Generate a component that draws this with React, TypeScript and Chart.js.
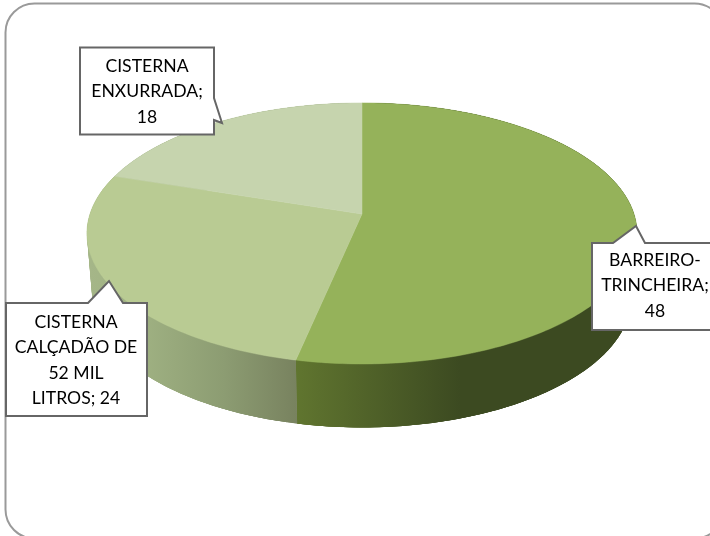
import React, { useEffect, useRef } from "react";
import { Chart, registerables } from "chart.js";

Chart.register(...registerables);

const categories = ["BARREIRO-TRINCHEIRA", "CISTERNA CALÇADÃO DE 52 MIL LITROS", "CISTERNA ENXURRADA"];
const values = [48, 24, 18];
const topColors = ["#95b25a", "#b9cb93", "#c6d4ae"];
const sideStops: [number, string][][] = [
  [[0, "#60752f"], [0.7, "#3c4a21"], [1, "#3c4a21"]],
  [[0, "#a5b688"], [0.25, "#9fb182"], [0.65, "#8c9c72"], [1, "#78825f"]],
  [[0, "#9aa884"], [1, "#9aa884"]],
];
const sideRanges = [[297, 530], [90, 297], [90, 362]];
const labelLines = [
  ["BARREIRO-", "TRINCHEIRA;", "48"],
  ["CISTERNA", "CALÇADÃO DE", "52 MIL", "LITROS; 24"],
  ["CISTERNA", "ENXURRADA;", "18"],
];

// Perspective of the pie disc
const disc = { cx: 362, cy: 214, a: 272, b: 127.6, k: -0.149, depth: 63.5, shrink: 0.98 };

const callouts = [
  { textX: 655, firstY: 260, path: [[592, 243], [613, 243], [636, 226], [645, 243], [730, 243], [730, 330], [592, 330]] },
  { textX: 76, firstY: 322, path: [[6, 303], [88, 303], [109, 281], [123, 303], [147, 303], [147, 416], [6, 416]] },
  { textX: 147, firstY: 66, path: [[80, 47.5], [214, 47.5], [214, 98], [222, 123], [214, 120], [214, 134.5], [80, 134.5]] },
];

const project = (angle: number, bottom = false): [number, number] => {
  const X = Math.cos(angle);
  const Y = Math.sin(angle);
  const d = 1 + disc.k * Y;
  const x = (disc.a * X) / d;
  const y = (disc.b * Y) / d;
  return bottom
    ? [disc.cx + x * disc.shrink, disc.cy + y + disc.depth]
    : [disc.cx + x, disc.cy + y];
};

const rim = (start: number, end: number, bottom = false) => {
  const n = Math.max(2, Math.ceil(Math.abs(end - start) * 60));
  const pts: [number, number][] = [];
  for (let i = 0; i <= n; i++) pts.push(project(start + ((end - start) * i) / n, bottom));
  return pts;
};

const trace = (ctx: CanvasRenderingContext2D, pts: number[][]) => {
  pts.forEach((p, i) => (i ? ctx.lineTo(p[0], p[1]) : ctx.moveTo(p[0], p[1])));
};

const perspectivePie = {
  id: "perspectivePie",
  beforeDatasetsDraw(chart: any) {
    const ctx: CanvasRenderingContext2D = chart.ctx;
    ctx.save();
    ctx.strokeStyle = "#9a9a9a";
    ctx.lineWidth = 2;
    ctx.beginPath();
    ctx.roundRect(5.5, 3.5, 718, 535, 29);
    ctx.stroke();
    ctx.restore();
  },
  beforeDatasetDraw(chart: any, args: any) {
    const ctx: CanvasRenderingContext2D = chart.ctx;
    const arcs = args.meta.data;
    ctx.save();
    [2, 0, 1].forEach((i) => {
      const el = arcs[i];
      const grad = ctx.createLinearGradient(sideRanges[i][0], 0, sideRanges[i][1], 0);
      sideStops[i].forEach(([o, c]) => grad.addColorStop(o, c));
      ctx.fillStyle = grad;
      const upper = rim(el.startAngle, el.endAngle);
      const lower = rim(el.startAngle, el.endAngle, true);
      const span = 6;
      for (let s = 0; s < upper.length - 1; s += 2) {
        const e = Math.min(s + span, upper.length - 1);
        ctx.beginPath();
        trace(ctx, [upper[s], upper[e], lower[e], lower[s]]);
        ctx.closePath();
        ctx.fill();
      }
      ctx.beginPath();
      trace(ctx, [...upper, ...lower.slice().reverse()]);
      ctx.closePath();
      ctx.fill();
    });
    arcs.forEach((el: any) => {
      ctx.fillStyle = el.options.backgroundColor;
      ctx.strokeStyle = el.options.backgroundColor;
      ctx.lineWidth = 0.5;
      ctx.beginPath();
      trace(ctx, [[disc.cx, disc.cy], ...rim(el.startAngle, el.endAngle)]);
      ctx.closePath();
      ctx.fill();
      ctx.stroke();
    });
    ctx.restore();
    return false;
  },
  afterDatasetsDraw(chart: any) {
    const ctx: CanvasRenderingContext2D = chart.ctx;
    ctx.save();
    callouts.forEach((c, i) => {
      ctx.beginPath();
      trace(ctx, c.path);
      ctx.closePath();
      ctx.fillStyle = "#ffffff";
      ctx.fill();
      ctx.strokeStyle = "#666666";
      ctx.lineWidth = 2;
      ctx.stroke();
      ctx.fillStyle = "#000000";
      ctx.font = "17.6px Lato";
      ctx.textAlign = "center";
      ctx.textBaseline = "middle";
      labelLines[i].forEach((line, j) => ctx.fillText(line, c.textX, c.firstY + j * 25.6));
    });
    ctx.restore();
  },
};

export default function App() {
  const ref = useRef<HTMLCanvasElement>(null);
  useEffect(() => {
    const chart = new Chart(ref.current!, {
      type: "pie",
      data: {
        labels: categories,
        datasets: [{ data: values, backgroundColor: topColors, borderWidth: 0 }],
      },
      options: {
        animation: false,
        responsive: false,
        plugins: { legend: { display: false }, tooltip: { enabled: false } },
      },
      plugins: [perspectivePie],
    } as any);
    return () => chart.destroy();
  }, []);
  return (
    <div style={{ position: "fixed", left: 0, top: 0, width: 710, height: 536, background: "#fff" }}>
      <canvas ref={ref} width={710} height={536} style={{ display: "block" }} />
    </div>
  );
}
